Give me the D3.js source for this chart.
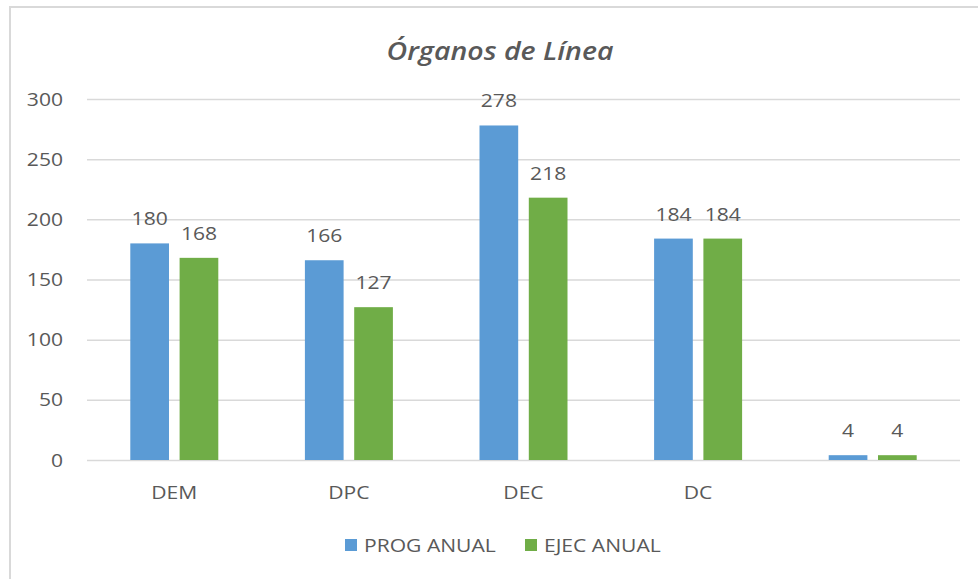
<!DOCTYPE html>
<html><head><meta charset="utf-8">
<script src="https://cdn.jsdelivr.net/npm/d3@7"></script>
<style>body{margin:0;background:#fff}svg{display:block}</style>
</head><body>
<svg id="c" width="978" height="579"></svg>
<script>
const categories = ["DEM", "DPC", "DEC", "DC", ""];
const seriesNames = ["PROG ANUAL", "EJEC ANUAL"];
const progAnual = [180, 166, 278, 184, 4];
const ejecAnual = [168, 127, 218, 184, 4];
const yTicks = [0, 50, 100, 150, 200, 250, 300];
const title = "Órganos de Línea";

const colors = ["#5B9BD5", "#70AD47"];
const textColor = "#595959";
const gridColor = "#D9D9D9";
const SX = 1.14; // horizontal text stretch
const FONT = "'Open Sans', 'Noto Sans', sans-serif";

const svg = d3.select("#c");
svg.append("rect").attr("x", 10).attr("y", 7).attr("width", 1000).attr("height", 620)
  .attr("fill", "#fff").attr("stroke", gridColor).attr("stroke-width", 2);

const x0 = d3.scaleBand().domain(categories).range([87, 960]).padding(0);
const x1 = d3.scaleBand().domain(seriesNames).range([-44, 44]).paddingInner(0.215);
const y = d3.scaleLinear().domain([0, 300]).range([460, 99]);

function stext(g, x, y, str, anchor, size, opts = {}) {
  return g.append("text")
    .attr("transform", `translate(${x},${y}) scale(${SX},1)`)
    .attr("text-anchor", anchor)
    .attr("font-family", FONT)
    .attr("font-size", size)
    .attr("font-style", opts.style || "normal")
    .attr("font-weight", opts.weight || 400)
    .attr("fill", textColor)
    .text(str);
}

// gridlines via axis
const yAxis = d3.axisLeft(y).tickValues(yTicks).tickSize(-(960 - 87)).tickFormat("");
const ga = svg.append("g").attr("transform", "translate(87,0)").call(yAxis);
ga.select(".domain").remove();
ga.selectAll(".tick line").attr("stroke", gridColor).attr("stroke-width", 1.5);

// y tick labels
const lab = svg.append("g");
yTicks.forEach(t => stext(lab, 63, y(t) + 6.5, String(t), "end", 18.5));

// category labels
categories.forEach(c => stext(lab, x0(c) + x0.bandwidth() / 2, 499, c, "middle", 18.5));

// bars
const data = [progAnual, ejecAnual];
const bars = svg.append("g");
seriesNames.forEach((s, si) => {
  bars.selectAll(null).data(categories).enter().append("rect")
    .attr("x", (c) => x0(c) + x0.bandwidth() / 2 + x1(s))
    .attr("width", x1.bandwidth())
    .attr("y", (c, i) => y(data[si][i]))
    .attr("height", (c, i) => y(0) - y(data[si][i]))
    .attr("fill", colors[si]);
  categories.forEach((c, i) => {
    stext(lab, x0(c) + x0.bandwidth() / 2 + x1(s) + x1.bandwidth() / 2,
      y(data[si][i]) - 18, String(data[si][i]), "middle", 18.5);
  });
});

// title
stext(svg, 500, 60, title, "middle", 25, { style: "italic", weight: 600 });

// legend
const legendX = [345, 525];
seriesNames.forEach((s, i) => {
  svg.append("rect").attr("x", legendX[i]).attr("y", 539).attr("width", 12).attr("height", 12)
    .attr("fill", colors[i]);
  stext(svg, legendX[i] + 19, 551.5, s, "start", 18.5);
});
</script>
</body></html>
